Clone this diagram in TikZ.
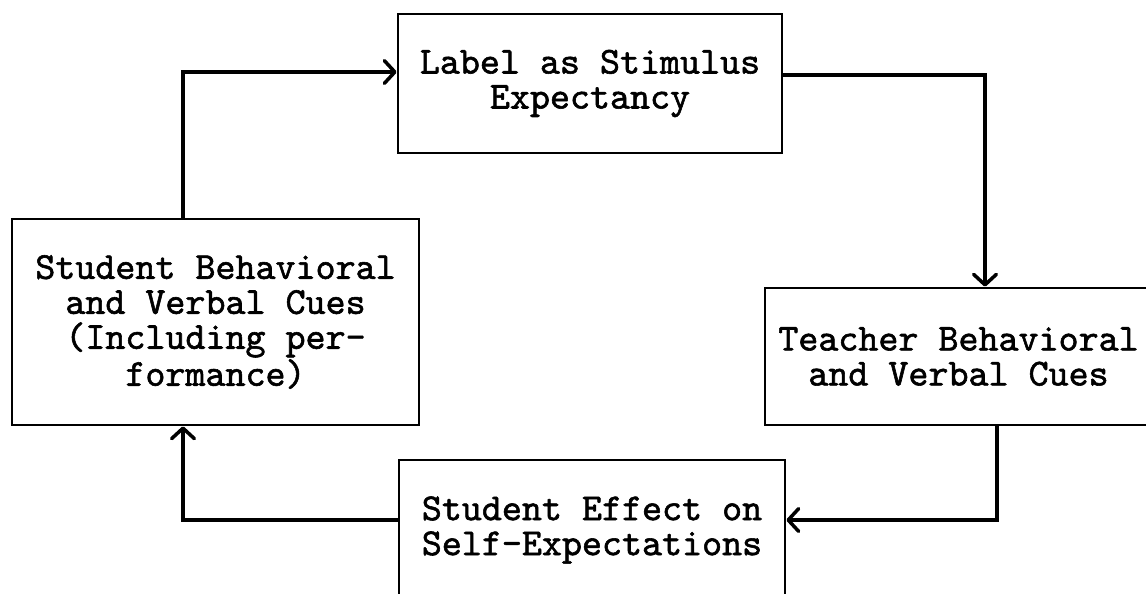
\documentclass[tikz,border=0pt]{standalone}
\usepackage{fontspec}
\newfontfamily\typer{lmmono10-regular.otf}[FakeBold=1.5]
\usetikzlibrary{arrows.meta}

\begin{document}
\begin{tikzpicture}[
    block/.style={draw, line width=1.6pt, align=center, inner sep=0pt,
                  font=\typer\fontsize{21.7}{19.9}\selectfont},
    arr/.style={-{Straight Barb[length=6pt,width=13pt,round]}, line width=2pt},
]
\useasboundingbox (0,0) rectangle (22.92,-11.86);

% ── Boxes ─────────────────────────────────────────────
\node[block, minimum width=7.68cm, minimum height=2.78cm] (label)
    at (11.8,-1.67) {Label as Stimulus\\Expectancy};
\node[block, minimum width=8.14cm, minimum height=4.12cm] (studcue)
    at (4.31,-6.44) {Student Behavioral\\and Verbal Cues\\(Including per-\\formance)};
\node[block, minimum width=7.74cm, minimum height=2.74cm] (teachcue)
    at (19.17,-7.13) {Teacher Behavioral\\and Verbal Cues};
\node[block, minimum width=7.72cm, minimum height=2.8cm] (effect)
    at (11.84,-10.6) {Student Effect on\\Self-Expectations};

% ── Loop (clockwise) ──────────────────────────────────
\draw[arr] ([xshift=-0.65cm]studcue.north) |- ([yshift=0.23cm]label.west);
\draw[arr] ([yshift=0.17cm]label.east) -| ([xshift=0.53cm]teachcue.north);
\draw[arr] ([xshift=0.77cm]teachcue.south) |- ([yshift=0.2cm]effect.east);
\draw[arr] ([yshift=0.2cm]effect.west) -| ([xshift=-0.65cm]studcue.south);

\end{tikzpicture}
\end{document}
